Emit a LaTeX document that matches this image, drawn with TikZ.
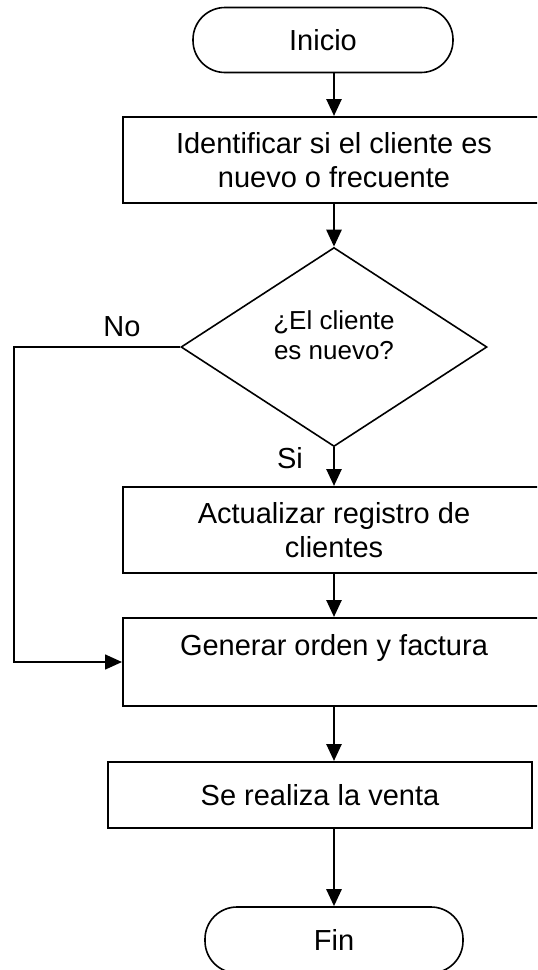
\documentclass[tikz,border=0pt]{standalone}
\usepackage{fontspec}
\setmainfont{Liberation Sans}
\usetikzlibrary{shapes.geometric,arrows.meta,positioning}

\begin{document}
\begin{tikzpicture}[x=0.5pt, y=-0.5pt,
  term/.style={rectangle, rounded corners=16pt, draw, line width=0.8pt, minimum width=130pt, minimum height=32.5pt, font=\fontsize{14.5}{17}\selectfont},
  proc/.style={rectangle, draw, line width=1pt, minimum width=#1, minimum height=43pt, align=center, font=\fontsize{14.5}{17}\selectfont},
  proc/.default=211pt,
  decis/.style={diamond, draw, line width=0.8pt, minimum width=153pt, minimum height=99.5pt, inner sep=0pt, align=center, font=\fontsize{13}{15}\selectfont},
  arr/.style={-{Triangle[width=7.5pt,length=8.5pt]}, line width=1.3pt},
  lbl/.style={font=\fontsize{14.5}{17}\selectfont}
]
  \clip (0,0) rectangle (537,970);
  \node[term] (inicio) at (323, 40) {Inicio};
  \node[proc] (ident) at (334, 160) {Identificar si el cliente es\\nuevo o frecuente};
  \node[decis] (nuevo) at (334, 347) {¿El cliente\\es nuevo?\\[-3pt]\mbox{}};
  \node[proc] (actual) at (334, 530) {Actualizar registro de\\clientes};
  \node[proc, minimum height=44pt] (orden) at (334, 662) {Generar orden y factura\\\mbox{}};
  \node[proc=212pt, minimum height=33pt] (venta) at (320, 795) {Se realiza la venta};
  \node[term, minimum width=129pt, minimum height=33pt] (fin) at (334, 940) {Fin};
  \coordinate (esq) at (14, 347);
  \node[lbl] (no) at (122, 327) {No};
  \node[lbl] (si) at (290, 458) {Si};
  % flujo principal
  \draw[arr] (ident.north |- inicio.south) -- (ident.north);
  \draw[arr] (ident) -- (nuevo);
  \draw[arr] (nuevo) -- (actual);
  \draw[arr] (actual) -- (orden);
  \draw[arr] (orden.south) -- (orden.south |- venta.north);
  \draw[arr] (fin.north |- venta.south) -- (fin.north);
  % cliente frecuente
  \draw[arr, line width=0.8pt] (nuevo.west) -- (esq) |- (orden.west);
\end{tikzpicture}
\end{document}
